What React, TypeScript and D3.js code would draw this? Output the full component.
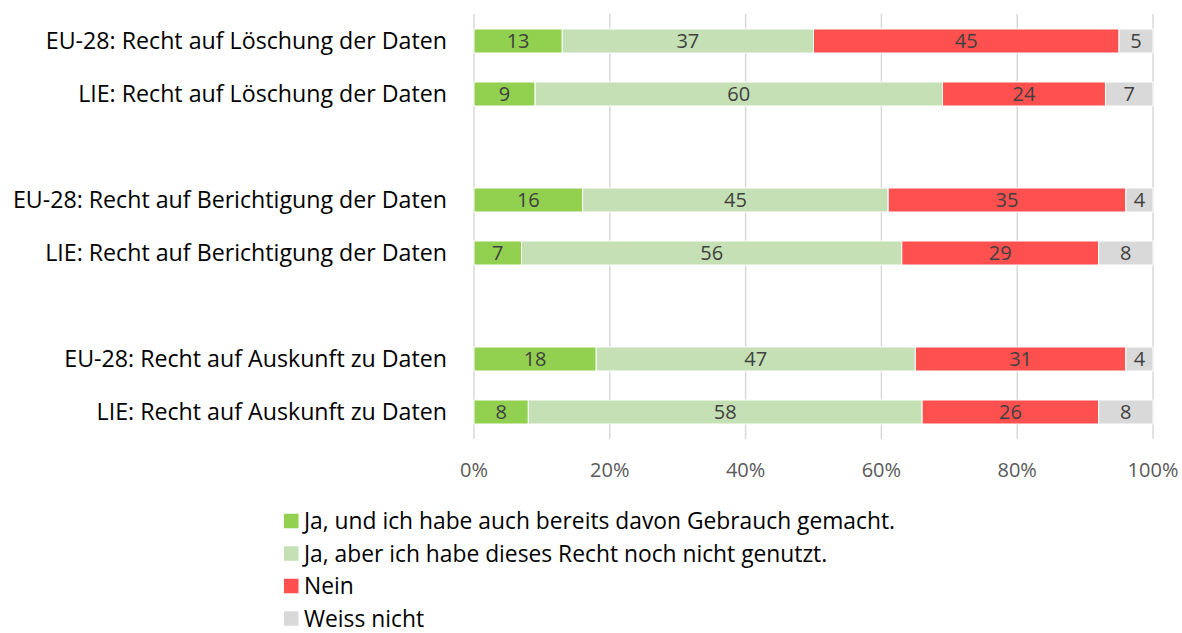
import * as d3 from 'd3';
import React, { useEffect, useRef } from 'react';

const categories = [
  'EU-28: Recht auf Löschung der Daten',
  'LIE: Recht auf Löschung der Daten',
  '',
  'EU-28: Recht auf Berichtigung der Daten',
  'LIE: Recht auf Berichtigung der Daten',
  ' ',
  'EU-28: Recht auf Auskunft zu Daten',
  'LIE: Recht auf Auskunft zu Daten',
];

const seriesNames = [
  'Ja, und ich habe auch bereits davon Gebrauch gemacht.',
  'Ja, aber ich habe dieses Recht noch nicht genutzt.',
  'Nein',
  'Weiss nicht',
];

// values per category, null for the blank spacer rows
const jaGebraucht = [13, 9, null, 16, 7, null, 18, 8];
const jaNichtGenutzt = [37, 60, null, 45, 56, null, 47, 58];
const nein = [45, 24, null, 35, 29, null, 31, 26];
const weissNicht = [5, 7, null, 4, 8, null, 4, 8];

const tickValues = [0, 20, 40, 60, 80, 100];
const colors = ['#92d050', '#c5e0b4', '#ff5050', '#d9d9d9'];

const FONT = '"Open Sans", Lato, sans-serif';

export default function App() {
  const ref = useRef<SVGSVGElement>(null);

  useEffect(() => {
    const svg = d3.select(ref.current);
    svg.selectAll('*').remove();

    const margin = { left: 474, right: 29, top: 14 };
    const x = d3.scaleLinear().domain([0, 100]).range([margin.left, 1182 - margin.right]);
    const y = d3.scaleBand()
      .domain(categories)
      .range([margin.top, 439])
      .paddingInner(0.547)
      .paddingOuter(0.283);

    // gridlines
    svg.append('g')
      .selectAll('line')
      .data(tickValues)
      .enter()
      .append('line')
      .attr('x1', d => x(d))
      .attr('x2', d => x(d))
      .attr('y1', margin.top)
      .attr('y2', 439)
      .style('stroke', '#d9d9d9')
      .style('stroke-width', 1.5);

    const rows = categories.map((c, i) => ({
      cat: c,
      vals: [jaGebraucht[i], jaNichtGenutzt[i], nein[i], weissNicht[i]],
    })).filter(r => r.vals[0] !== null);

    const segs: { cat: string; i: number; x0: number; x1: number; v: number }[] = [];
    rows.forEach(r => {
      let acc = 0;
      r.vals.forEach((v, i) => {
        segs.push({ cat: r.cat, i, x0: acc, x1: acc + (v as number), v: v as number });
        acc += v as number;
      });
    });

    const bars = svg.append('g');
    bars.selectAll('rect')
      .data(segs)
      .enter()
      .append('rect')
      .attr('x', d => x(d.x0))
      .attr('width', d => x(d.x1) - x(d.x0))
      .attr('y', d => y(d.cat) as number)
      .attr('height', y.bandwidth())
      .style('fill', d => colors[d.i])
      .style('stroke', '#fff')
      .style('stroke-width', 1);

    bars.selectAll('text')
      .data(segs)
      .enter()
      .append('text')
      .attr('x', d => (x(d.x0) + x(d.x1)) / 2)
      .attr('y', d => (y(d.cat) as number) + y.bandwidth() / 2)
      .attr('dy', '0.36em')
      .attr('text-anchor', 'middle')
      .style('font-family', FONT)
      .style('font-size', '20px')
      .style('fill', '#404040')
      .text(d => d.v);

    // category labels
    svg.append('g')
      .selectAll('text')
      .data(rows)
      .enter()
      .append('text')
      .attr('x', 447)
      .attr('y', d => (y(d.cat) as number) + y.bandwidth() / 2)
      .attr('dy', '0.36em')
      .attr('text-anchor', 'end')
      .style('font-family', FONT)
      .style('font-size', '23.2px')
      .style('fill', '#000')
      .text(d => d.cat);

    // x tick labels
    svg.append('g')
      .selectAll('text')
      .data(tickValues)
      .enter()
      .append('text')
      .attr('x', d => x(d))
      .attr('y', 470)
      .attr('dy', '0.36em')
      .attr('text-anchor', 'middle')
      .style('font-family', FONT)
      .style('font-size', '20px')
      .style('fill', '#595959')
      .text(d => d + '%');

    // legend
    const legend = svg.append('g')
      .selectAll('g')
      .data(seriesNames)
      .enter()
      .append('g')
      .attr('transform', (d, i) => `translate(284, ${521 + i * 32.5})`);
    legend.append('rect')
      .attr('x', 0)
      .attr('y', -7.25)
      .attr('width', 14.5)
      .attr('height', 14.5)
      .style('fill', (d, i) => colors[i]);
    legend.append('text')
      .attr('x', 20)
      .attr('y', 0)
      .attr('dy', '0.36em')
      .style('font-family', FONT)
      .style('font-size', '22.8px')
      .style('fill', '#000')
      .text(d => d);
  }, []);

  return (
    <div style={{ position: 'absolute', left: 0, top: 0 }}>
      <svg ref={ref} width={1182} height={633} style={{ display: 'block', background: '#fff' }} />
    </div>
  );
}
